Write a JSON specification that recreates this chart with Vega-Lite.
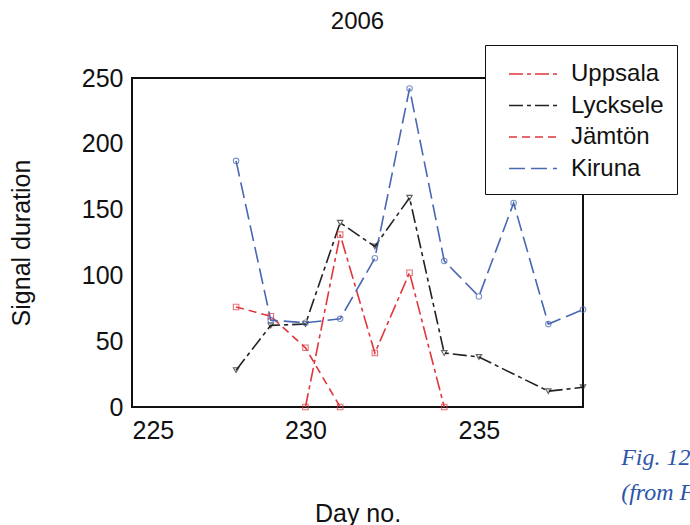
{
  "$schema": "https://vega.github.io/schema/vega-lite/v6.json",
  "autosize": "none",
  "width": 451,
  "height": 329,
  "padding": {"left": 132, "top": 78, "right": 107, "bottom": 118},
  "background": "white",
  "config": {
    "font": "Liberation Sans",
    "view": {"stroke": "#111", "strokeWidth": 2},
    "axis": {"grid": false, "domain": false, "labelFont": "Liberation Sans", "titleFont": "Liberation Sans", "labelColor": "#111", "titleColor": "#111", "tickColor": "#444", "labelFontSize": 25, "titleFontSize": 25, "titleFontWeight": "normal"},
    "legend": {"labelFont": "Liberation Sans", "labelFontSize": 24, "labelColor": "#111"}
  },
  "title": {"text": "2006", "fontSize": 24, "fontWeight": "normal", "font": "Liberation Sans", "offset": 11, "color": "#111"},
  "datasets": {
    "series": [
      {"station": "Uppsala", "day": 230, "duration": 0},
      {"station": "Uppsala", "day": 231, "duration": 131},
      {"station": "Uppsala", "day": 232, "duration": 41},
      {"station": "Uppsala", "day": 233, "duration": 102},
      {"station": "Uppsala", "day": 234, "duration": 0},
      {"station": "Lycksele", "day": 228, "duration": 28},
      {"station": "Lycksele", "day": 229, "duration": 62},
      {"station": "Lycksele", "day": 230, "duration": 63},
      {"station": "Lycksele", "day": 231, "duration": 140},
      {"station": "Lycksele", "day": 232, "duration": 122},
      {"station": "Lycksele", "day": 233, "duration": 159},
      {"station": "Lycksele", "day": 234, "duration": 41},
      {"station": "Lycksele", "day": 235, "duration": 38},
      {"station": "Lycksele", "day": 237, "duration": 12},
      {"station": "Lycksele", "day": 238, "duration": 15},
      {"station": "Jämtön", "day": 228, "duration": 76},
      {"station": "Jämtön", "day": 229, "duration": 69},
      {"station": "Jämtön", "day": 230, "duration": 45},
      {"station": "Jämtön", "day": 231, "duration": 0},
      {"station": "Kiruna", "day": 228, "duration": 187},
      {"station": "Kiruna", "day": 229, "duration": 66},
      {"station": "Kiruna", "day": 230, "duration": 64},
      {"station": "Kiruna", "day": 231, "duration": 67},
      {"station": "Kiruna", "day": 232, "duration": 113},
      {"station": "Kiruna", "day": 233, "duration": 242},
      {"station": "Kiruna", "day": 234, "duration": 111},
      {"station": "Kiruna", "day": 235, "duration": 84},
      {"station": "Kiruna", "day": 236, "duration": 155},
      {"station": "Kiruna", "day": 237, "duration": 63},
      {"station": "Kiruna", "day": 238, "duration": 74}
    ],
    "caption": [
      {"label": "Fig. 12", "day": 239.1, "duration": -39},
      {"label": "(from F", "day": 239.1, "duration": -65}
    ]
  },
  "layer": [
    {
      "data": {"name": "series"},
      "mark": {"type": "line", "strokeWidth": 1.6},
      "encoding": {
        "x": {"field": "day", "type": "quantitative", "scale": {"domain": [225, 238], "nice": false, "zero": false}, "axis": {"values": [225, 230, 235], "title": "Day no.", "titlePadding": 58, "tickSize": 0, "labelPadding": 11}},
        "y": {"field": "duration", "type": "quantitative", "scale": {"domain": [0, 250], "nice": false}, "axis": {"values": [0, 50, 100, 150, 200, 250], "title": "Signal duration", "titlePadding": 47, "tickSize": 0, "labelPadding": 9}},
        "color": {"field": "station", "type": "nominal", "scale": {"domain": ["Uppsala", "Lycksele", "Jämtön", "Kiruna"], "range": ["#e0363c", "#222222", "#e0363c", "#4a67b4"]},
          "legend": {"title": null, "orient": "none", "legendX": 353, "legendY": -33, "fillColor": "white", "strokeColor": "#111", "padding": 13, "symbolType": "M-1.6,0H1.6", "symbolSize": 900, "symbolStrokeWidth": 1.6, "symbolOffset": 19, "labelOffset": 22, "rowPadding": 3.5}},
        "strokeDash": {"field": "station", "type": "nominal", "scale": {"domain": ["Uppsala", "Lycksele", "Jämtön", "Kiruna"], "range": [[14, 4, 4, 4], [14, 4, 4, 4], [8, 5], [16, 6]]},
          "legend": {"title": null, "orient": "none", "legendX": 353, "legendY": -33, "fillColor": "white", "strokeColor": "#111", "padding": 13, "symbolType": "M-1.6,0H1.6", "symbolSize": 900, "symbolStrokeWidth": 1.6, "symbolOffset": 19, "labelOffset": 22, "rowPadding": 3.5}},
        "detail": {"field": "station"}
      }
    },
    {
      "data": {"name": "series"},
      "transform": [{"filter": "datum.station === 'Uppsala' || datum.station === 'Jämtön'"}],
      "mark": {"type": "point", "shape": "square", "filled": false, "size": 30, "strokeWidth": 1.1, "color": "#e0363c"},
      "encoding": {
        "x": {"field": "day", "type": "quantitative"},
        "y": {"field": "duration", "type": "quantitative"}
      }
    },
    {
      "data": {"name": "series"},
      "transform": [{"filter": "datum.station === 'Lycksele'"}],
      "mark": {"type": "point", "shape": "triangle-down", "filled": false, "size": 30, "strokeWidth": 1.1, "color": "#222222"},
      "encoding": {
        "x": {"field": "day", "type": "quantitative"},
        "y": {"field": "duration", "type": "quantitative"}
      }
    },
    {
      "data": {"name": "series"},
      "transform": [{"filter": "datum.station === 'Kiruna'"}],
      "mark": {"type": "point", "shape": "circle", "filled": false, "size": 30, "strokeWidth": 1.1, "color": "#4a67b4"},
      "encoding": {
        "x": {"field": "day", "type": "quantitative"},
        "y": {"field": "duration", "type": "quantitative"}
      }
    },
    {
      "data": {"name": "caption"},
      "mark": {"type": "text", "align": "left", "baseline": "middle", "font": "Liberation Serif", "fontStyle": "italic", "fontSize": 24, "color": "#2d55a8"},
      "encoding": {
        "x": {"field": "day", "type": "quantitative"},
        "y": {"field": "duration", "type": "quantitative"},
        "text": {"field": "label"}
      }
    }
  ]
}
